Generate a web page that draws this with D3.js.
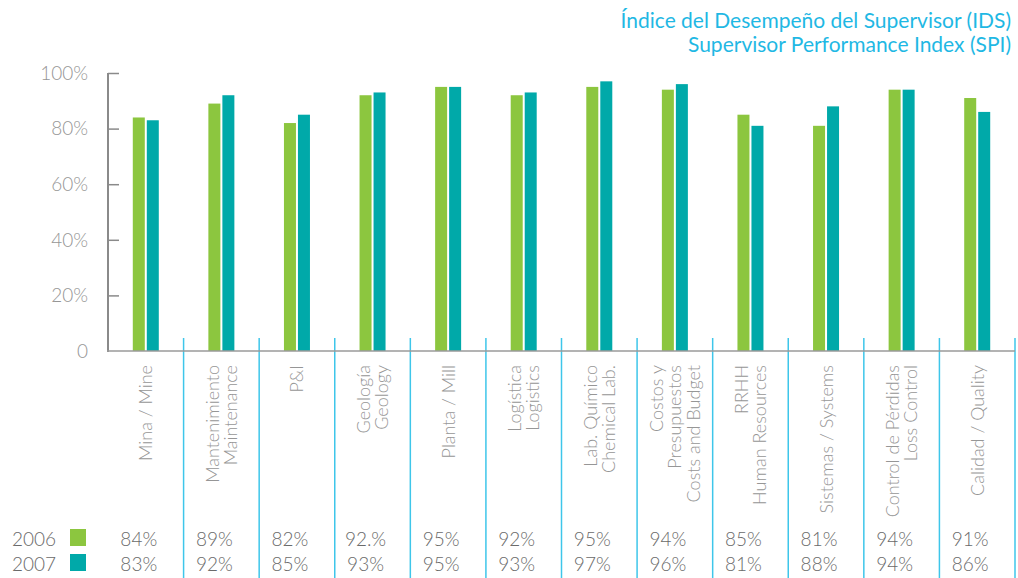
<!DOCTYPE html>
<html>
<head>
<meta charset="utf-8">
<script src="https://cdn.jsdelivr.net/npm/d3@7"></script>
<style>
  body { margin: 0; background: #fff; }
  svg { display: block; font-family: Lato, "Open Sans", sans-serif; }
</style>
</head>
<body>
<svg id="display" width="1018" height="578"></svg>
<script>
'use strict';
//data
var CATEGORIES = [
  ['Mina / Mine'],
  ['Mantenimiento', 'Maintenance'],
  ['P&I'],
  ['Geología', 'Geology'],
  ['Planta / Mill'],
  ['Logística', 'Logistics'],
  ['Lab. Químico', 'Chemical Lab.'],
  ['Costos y', 'Presupuestos', 'Costs and Budget'],
  ['RRHH', 'Human Resources'],
  ['Sistemas / Systems'],
  ['Control de Pérdidas', 'Loss Control'],
  ['Calidad / Quality']
];
var YEARS = ['2006', '2007'];
var VALUES_2006 = [84, 89, 82, 92, 95, 92, 95, 94, 85, 81, 94, 91];
var VALUES_2007 = [83, 92, 85, 93, 95, 93, 97, 96, 81, 88, 94, 86];
var LABELS_2006 = ['84%', '89%', '82%', '92.%', '95%', '92%', '95%', '94%', '85%', '81%', '94%', '91%'];
var LABELS_2007 = ['83%', '92%', '85%', '93%', '95%', '93%', '97%', '96%', '81%', '88%', '94%', '86%'];
var Y_TICKS = [0, 20, 40, 60, 80, 100];
var Y_TICK_LABELS = ['0', '20%', '40%', '60%', '80%', '100%'];
var TITLE = ['Índice del Desempeño del Supervisor (IDS)', 'Supervisor Performance Index (SPI)'];

//constants
var COLORS = ['#8cc63f', '#00a9a9'];
var SEPARATOR = '#3ec6ea';
var MARGINS = { top: 73, left: 108, right: 1015, bottom: 351 };

var svg = d3.select('#display');

var x = d3.scaleBand()
  .domain(d3.range(CATEGORIES.length))
  .range([MARGINS.left, MARGINS.right]);

var y = d3.scaleLinear()
  .domain([0, 100])
  .range([MARGINS.bottom, MARGINS.top]);

var series = [VALUES_2006, VALUES_2007];
var seriesLabels = [LABELS_2006, LABELS_2007];

drawTitle();
drawSeparators();
drawBars();
drawAxes();
drawCategoryLabels();
drawTable();

//helpers
function drawTitle() {
  svg.append('g')
    .selectAll('text')
    .data(TITLE)
    .enter()
    .append('text')
    .attr('x', 1011)
    .attr('y', function(d, i) { return 28 + i * 24; })
    .attr('text-anchor', 'end')
    .attr('font-size', 21)
    .attr('fill', '#1fb8e4')
    .text(function(d) { return d; });
}

function drawSeparators() {
  svg.append('g')
    .selectAll('line')
    .data(d3.range(1, CATEGORIES.length + 1))
    .enter()
    .append('line')
    .attr('x1', function(d) { return x.step() * d + MARGINS.left; })
    .attr('x2', function(d) { return x.step() * d + MARGINS.left; })
    .attr('y1', 338)
    .attr('y2', 578)
    .attr('stroke', SEPARATOR)
    .attr('stroke-width', 1.5);
}

function drawBars() {
  var barWidth = 12;
  var gap = 2;
  series.forEach(function(values, s) {
    svg.append('g')
      .selectAll('rect')
      .data(values)
      .enter()
      .append('rect')
      .attr('x', function(d, i) {
        var c = x(i) + x.bandwidth() / 2;
        return s === 0 ? c - barWidth - gap / 2 : c + gap / 2;
      })
      .attr('y', function(d) { return y(d); })
      .attr('width', barWidth)
      .attr('height', function(d) { return y(0) - y(d); })
      .attr('fill', COLORS[s]);
  });
}

function drawAxes() {
  var yAxis = d3.axisRight(y)
    .tickValues(Y_TICKS.slice(1))
    .tickSize(11)
    .tickFormat('');

  var g = svg.append('g')
    .attr('transform', 'translate(' + MARGINS.left + ',0)')
    .call(yAxis);
  g.select('.domain').remove();
  g.selectAll('line').attr('stroke', '#8a8a8a').attr('stroke-width', 1.5);

  svg.append('line')
    .attr('x1', MARGINS.left).attr('x2', MARGINS.left)
    .attr('y1', y(100)).attr('y2', y(0) + 1)
    .attr('stroke', '#8a8a8a').attr('stroke-width', 2);

  svg.append('line')
    .attr('x1', MARGINS.left - 1).attr('x2', MARGINS.right)
    .attr('y1', y(0)).attr('y2', y(0))
    .attr('stroke', '#9a9a9a').attr('stroke-width', 1.5);

  svg.append('g')
    .selectAll('text')
    .data(Y_TICKS)
    .enter()
    .append('text')
    .attr('x', 88)
    .attr('y', function(d) { return y(d); })
    .attr('dy', '0.36em')
    .attr('text-anchor', 'end')
    .attr('font-size', 19)
    .attr('font-weight', 300)
    .attr('fill', '#969696')
    .text(function(d, i) { return Y_TICK_LABELS[i]; });
}

function drawCategoryLabels() {
  var lineGap = 18.5;
  var groups = svg.append('g')
    .selectAll('g')
    .data(CATEGORIES)
    .enter()
    .append('g');

  groups.selectAll('text')
    .data(function(d, i) {
      return d.map(function(line, j) {
        return { text: line, cx: x(i) + x.bandwidth() / 2 + (j - (d.length - 1) / 2) * lineGap };
      });
    })
    .enter()
    .append('text')
    .attr('transform', function(d) { return 'translate(' + d.cx + ',365) rotate(-90)'; })
    .attr('dy', '0.36em')
    .attr('text-anchor', 'end')
    .attr('font-size', 18)
    .attr('font-weight', 300)
    .attr('fill', '#969696')
    .text(function(d) { return d.text; });
}

function drawTable() {
  var rowY = [546, 571];

  YEARS.forEach(function(year, s) {
    svg.append('text')
      .attr('x', 12)
      .attr('y', rowY[s])
      .attr('font-size', 19)
      .attr('font-weight', 300)
      .attr('fill', '#6a6a6a')
      .text(year);

    svg.append('rect')
      .attr('x', 70)
      .attr('y', rowY[s] - 17)
      .attr('width', 16)
      .attr('height', 17)
      .attr('fill', COLORS[s]);

    svg.append('g')
      .selectAll('text')
      .data(seriesLabels[s])
      .enter()
      .append('text')
      .attr('x', function(d, i) { return x(i) + x.bandwidth() / 2 - 7; })
      .attr('y', rowY[s])
      .attr('text-anchor', 'middle')
      .attr('font-size', 19)
      .attr('font-weight', 300)
      .attr('fill', '#6a6a6a')
      .text(function(d) { return d; });
  });
}
</script>
</body>
</html>
